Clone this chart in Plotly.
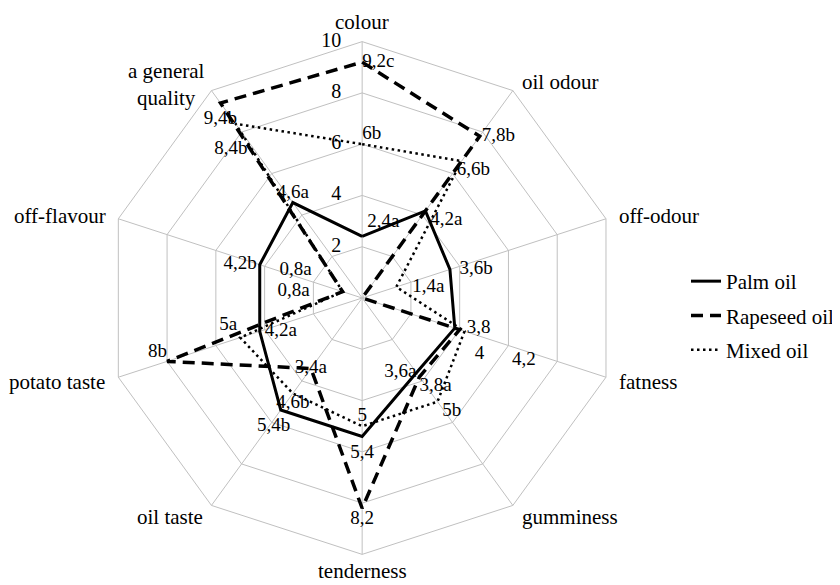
import plotly.graph_objects as go

# ---------------- data ----------------
categories = ["colour", "oil odour", "off-odour", "fatness", "gumminess",
              "tenderness", "oil taste", "potato taste", "off-flavour",
              "a general quality"]

palm = [2.4, 4.2, 3.6, 3.8, 3.6, 5.4, 5.4, 4.2, 4.2, 4.6]
rapeseed = [9.2, 7.8, 0, 4.0, 3.8, 8.2, 3.4, 8.0, 0.8, 9.4]
mixed = [6.0, 6.6, 1.4, 4.2, 5.0, 5.0, 4.6, 5.0, 0.8, 8.4]

palm_lbl = ["2,4a", "4,2a", "3,6b", "3,8", "3,6a", "5,4", "5,4b", "4,2a", "4,2b", "4,6a"]
rapeseed_lbl = ["9,2c", "7,8b", "0a", "4", "3,8a", "8,2", "3,4a", "8b", "0,8a", "9,4b"]
mixed_lbl = ["6b", "6,6b", "1,4a", "4,2", "5b", "5", "4,6b", "5a", "0,8a", "8,4b"]

radial_ticks = [0, 2, 4, 6, 8, 10]

# ---------------- label placement (styling only) ----------------
NB = "\u00a0"
palm_pos = ["top right", "bottom right", "middle right", "middle right", "middle left",
            "bottom center", "bottom center", "middle right", "middle left", "top center"]
palm_off = [5, 0, 0, 12, 0, 7, 7, 5, 3, 0]
palm_pad = ["", "L1", "L2", "", "", "", "R3", "", "", ""]

rapeseed_pos = ["middle right", "middle right", "top right", "bottom right", "bottom right",
                "bottom center", "middle center", "top left", "top left", "bottom center"]
rapeseed_off = [0, 2, 0, 15, 0, 2, 0, 1, 12, 7]
rapeseed_pad = ["", "", "L3", "", "", "", "", "", "R4", ""]

mixed_pos = ["top right", "bottom center", "middle right", "bottom right", "bottom right",
             "top center", "bottom center", "top left", "middle left", "bottom center"]
mixed_off = [0, 0, 16, 19, 0, 0, 0, 3, 33, 16]
mixed_pad = ["", "L5", "", "L6", "L1", "", "", "", "", "R2"]


def pad(lbls, pads):
    out = []
    for t, p in zip(lbls, pads):
        if p.startswith("L"):
            t = NB * int(p[1:]) + t
        elif p.startswith("R"):
            t = t + NB * int(p[1:])
        out.append(t)
    return out


def msize(offs):
    # plotly text offset r = size/1.6 + 1 for an (invisible) marker
    return [max(0.0, (o - 1) * 1.6) for o in offs]


FONT = "Liberation Serif"
W, H, OFF = 832, 577, 8      # page body has an 8px margin


def px(x):
    return (x - OFF) / W


def py(y):
    return 1 - (y - OFF) / H


def closed(v):
    return list(v) + [v[0]]


fig = go.Figure()
series = [
    ("Palm oil", palm, pad(palm_lbl, palm_pad), palm_pos, palm_off, "solid", 3),
    ("Rapeseed oil", rapeseed, pad(rapeseed_lbl, rapeseed_pad), rapeseed_pos, rapeseed_off,
     "12px,7px", 3.5),
    ("Mixed oil", mixed, pad(mixed_lbl, mixed_pad), mixed_pos, mixed_off, "2.5px,3.5px", 2.5),
]
for name, vals, lbls, pos, offs, dash, w in series:
    fig.add_trace(go.Scatterpolar(
        r=closed(vals), theta=closed(categories), mode="lines", name=name,
        legendgroup=name,
        line=dict(color="black", width=w, dash=dash), hoverinfo="skip"))
for name, vals, lbls, pos, offs, dash, w in series:
    fig.add_trace(go.Scatterpolar(
        r=vals, theta=categories, mode="markers+text", text=lbls, textposition=pos,
        marker=dict(size=msize(offs), color="rgba(0,0,0,0)", line=dict(width=0)),
        textfont=dict(family=FONT, size=19, color="black"),
        showlegend=False, hoverinfo="skip", cliponaxis=False))

# radial tick labels along the "colour" axis
fig.add_trace(go.Scatterpolar(
    r=radial_ticks, theta=[categories[0]] * len(radial_ticks), mode="markers+text",
    text=[str(t) for t in radial_ticks], textposition="middle left",
    marker=dict(size=msize([21] * len(radial_ticks)), color="rgba(0,0,0,0)",
                line=dict(width=0)),
    textfont=dict(family=FONT, size=20, color="black"),
    showlegend=False, hoverinfo="skip", cliponaxis=False))

# category labels
cat_lbl = [
    ("colour", 363, 22, "center"),
    ("oil odour", 521, 82, "left"),
    ("off-odour", 618, 216, "left"),
    ("fatness", 618, 382, "left"),
    ("gumminess", 521, 517, "left"),
    ("tenderness", 363, 571, "center"),
    ("oil taste", 205, 517, "right"),
    ("potato taste", 107, 382, "right"),
    ("off-flavour", 108, 216, "right"),
    ("a general<br>quality", 167, 84, "center"),
]
annotations = [dict(text=t, x=px(x), y=py(y), xref="paper", yref="paper",
                    xanchor=a, yanchor="middle", showarrow=False, align="center",
                    font=dict(family=FONT, size=21, color="black"))
               for t, x, y, a in cat_lbl]

grid = "#c0c0c0"
fig.update_layout(
    width=W, height=H,
    margin=dict(l=0, r=0, t=0, b=0),
    paper_bgcolor="white",
    font=dict(family=FONT, size=21, color="black"),
    annotations=annotations,
    polar=dict(
        domain=dict(x=[px(106), px(620)], y=[py(555), py(41)]),
        gridshape="linear",
        bgcolor="white",
        radialaxis=dict(range=[0, 10], dtick=2, angle=90, showticklabels=False,
                        showline=False, gridcolor=grid, gridwidth=1, ticks=""),
        angularaxis=dict(rotation=90, direction="clockwise",
                         categoryorder="array", categoryarray=categories,
                         showticklabels=False, ticks="",
                         gridcolor=grid, linecolor=grid, linewidth=1),
    ),
    legend=dict(x=px(688), y=py(261), xanchor="left", yanchor="top",
                font=dict(family=FONT, size=21), itemwidth=30,
                traceorder="grouped", tracegroupgap=4,
                bgcolor="rgba(0,0,0,0)"),
)

fig.write_html("out.html")
